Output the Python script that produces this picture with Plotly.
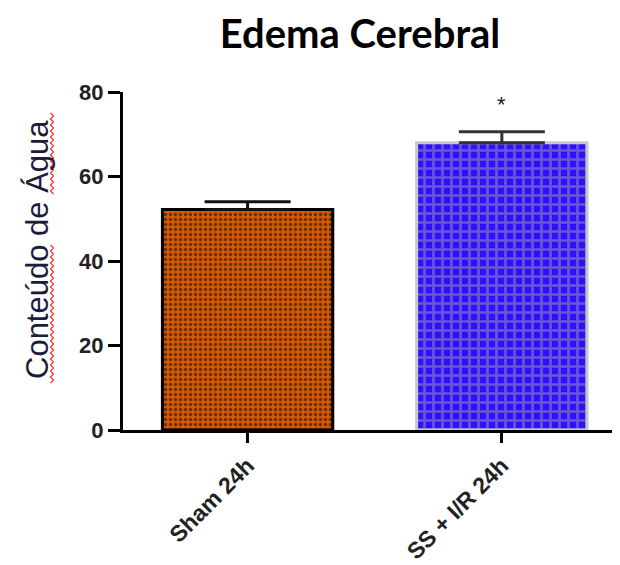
import plotly.graph_objects as go

categories = ["Sham 24h", "SS + I/R 24h"]
means = [52.2, 68.0]
errors = [1.8, 2.6]
significance = ["", "*"]
star_y = [None, 78.0]

# page offset: browser body margin of 8px
OFF = 8
W, H = 612, 557
L, R, T, B = 115, 5, 84, 135

fig = go.Figure()

fig.add_trace(go.Bar(
    x=[categories[0]], y=[means[0]],
    width=0.67,
    marker=dict(
        color="#c85400",
        line=dict(color="#000000", width=3),
        pattern=dict(shape=".", fgcolor="#000000", bgcolor="#d35a00", size=5, solidity=0.35),
    ),
    error_y=dict(type="data", array=[errors[0]], arrayminus=[0], symmetric=False,
                 color="#111111", thickness=3, width=43),
    showlegend=False,
))
fig.add_trace(go.Bar(
    x=[categories[1]], y=[means[1]],
    width=0.67,
    marker=dict(
        color="#3a10ff",
        line=dict(color="#c8c8c8", width=3),
        pattern=dict(shape="+", fgcolor="#a0a0a8", bgcolor="#3010ff", size=9, solidity=0.5),
    ),
    error_y=dict(type="data", array=[errors[1]], arrayminus=[0], symmetric=False,
                 color="#333333", thickness=3, width=43),
    showlegend=False,
))

fig.add_annotation(x=categories[1], y=star_y[1], text=significance[1], showarrow=False,
                   font=dict(family="Liberation Sans", size=22, color="#222222"), yshift=-4)

PW, PH = W - L - R, H - T - B


def px2paper(px, py):
    # px, py are window pixel coordinates
    return (px - OFF - L) / PW, 1 - (py - OFF - T) / PH


# y-axis title as annotation
tx, ty = px2paper(38, 250)
fig.add_annotation(xref="paper", yref="paper", x=tx, y=ty,
                   text="Conteúdo de Água", textangle=-90, showarrow=False,
                   xanchor="center", yanchor="middle",
                   font=dict(family="Liberation Sans, Arial", size=31, color="#1c1c3c"))

# decorative red spell-check squiggles
for (py0, py1) in [(245, 385), (113, 195)]:
    pts = [(52 + (1.5 if i % 2 else -1.5), py0 + i * 3) for i in range(int((py1 - py0) / 3) + 1)]
    path = ""
    for k, (px, py) in enumerate(pts):
        a, b = px2paper(px, py)
        path += ("M " if k == 0 else " L ") + f"{a:.5f},{b:.5f}"
    fig.add_shape(type="path", xref="paper", yref="paper", path=path,
                  line=dict(color="#ff3030", width=1.2))

fig.update_layout(
    width=W, height=H,
    margin=dict(l=L, r=R, t=T, b=B, autoexpand=False),
    paper_bgcolor="white", plot_bgcolor="white",
    title=dict(text="<b>Edema Cerebral</b>", x=(360 - OFF) / W, xanchor="center",
               y=1 - (34 - OFF) / H, yanchor="middle",
               font=dict(family="Lato, Liberation Sans", size=40, color="#000000")),
    xaxis=dict(
        type="category", range=[-0.49, 1.445], automargin=False,
        showline=True, linecolor="#000000", linewidth=3,
        ticks="outside", ticklen=10, tickwidth=3, tickcolor="#000000",
        tickangle=-45,
        tickfont=dict(family="Liberation Sans, Arial", size=23, color="#222222", weight="bold"),
        showgrid=False, zeroline=False,
    ),
    yaxis=dict(
        range=[0, 80], tickvals=[0, 20, 40, 60, 80], automargin=False,
        showline=True, linecolor="#000000", linewidth=3,
        ticks="outside", ticklen=12, tickwidth=3, tickcolor="#000000",
        tickfont=dict(family="Liberation Sans, Arial", size=22, color="#222222", weight="bold"),
        showgrid=False, zeroline=False,
    ),
)

fig.write_html("out.html")
